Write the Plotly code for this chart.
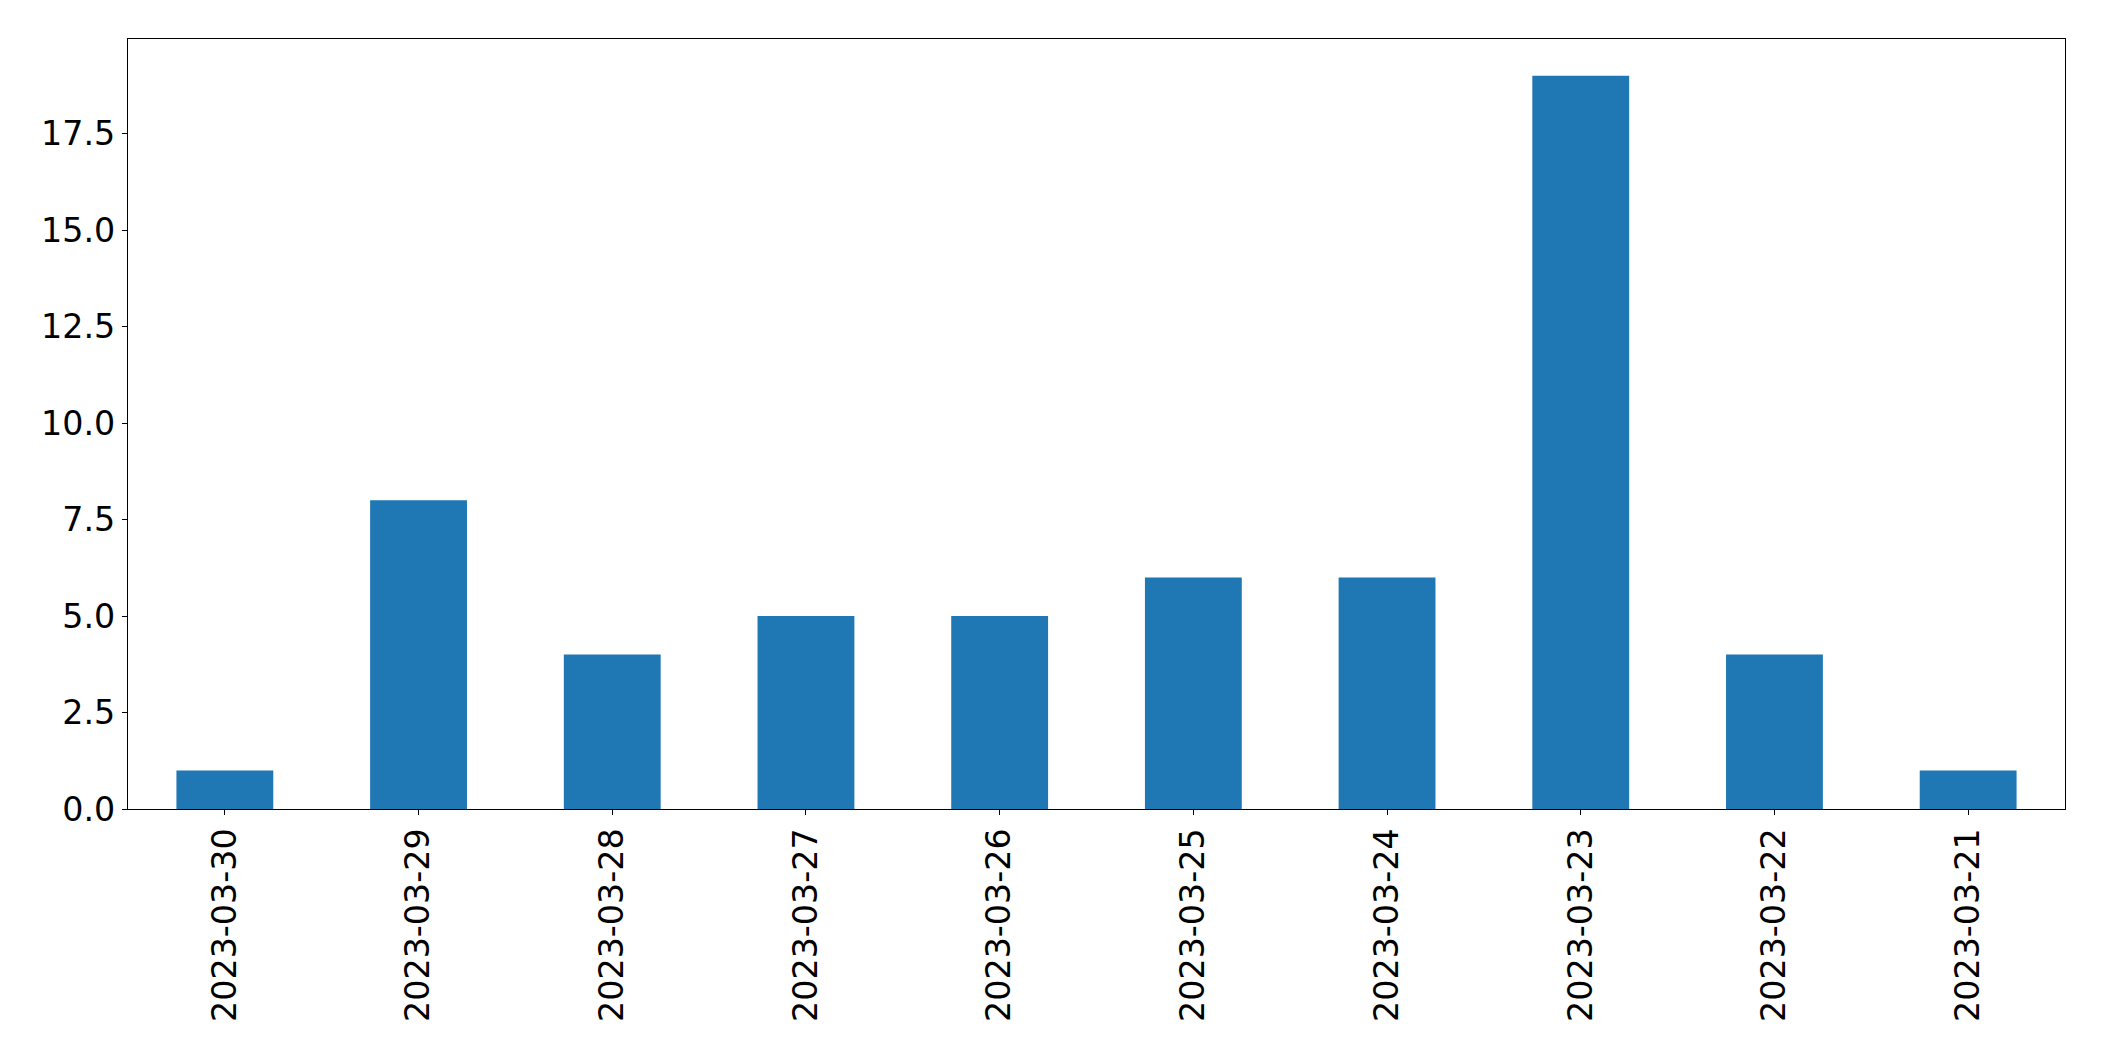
import plotly.graph_objects as go

dates = ["2023-03-30", "2023-03-29", "2023-03-28", "2023-03-27", "2023-03-26",
         "2023-03-25", "2023-03-24", "2023-03-23", "2023-03-22", "2023-03-21"]
counts = [1, 8, 4, 5, 5, 6, 6, 19, 4, 1]
y_ticks = [0, 2.5, 5, 7.5, 10, 12.5, 15, 17.5]
y_tick_text = ["0.0", "2.5", "5.0", "7.5", "10.0", "12.5", "15.0", "17.5"]

fig = go.Figure(go.Bar(x=list(range(len(dates))), y=counts, width=0.5,
                       marker=dict(color="#1f77b4", line=dict(width=0))))

font = dict(family="DejaVu Sans", size=33.3, color="black")
fig.update_layout(
    width=2104, height=1061,
    margin=dict(l=127.5, r=38.7, t=39.3, b=252),
    paper_bgcolor="white", plot_bgcolor="white",
    showlegend=False, font=font,
)
fig.update_xaxes(
    range=[-0.5, len(dates) - 0.5],
    tickmode="array", tickvals=list(range(len(dates))), ticktext=dates,
    tickangle=-90, ticks="outside", ticklen=5, tickwidth=1.2, tickcolor="black",
    showline=True, linecolor="black", linewidth=1.2, mirror=True,
    showgrid=False, zeroline=False, tickfont=font,
)
fig.update_yaxes(
    range=[0, 19.95],
    tickmode="array", tickvals=y_ticks, ticktext=y_tick_text,
    ticks="outside", ticklen=5, tickwidth=1.2, tickcolor="black",
    showline=True, linecolor="black", linewidth=1.2, mirror=True,
    showgrid=False, zeroline=False, tickfont=font,
)
fig.write_html("out.html")
